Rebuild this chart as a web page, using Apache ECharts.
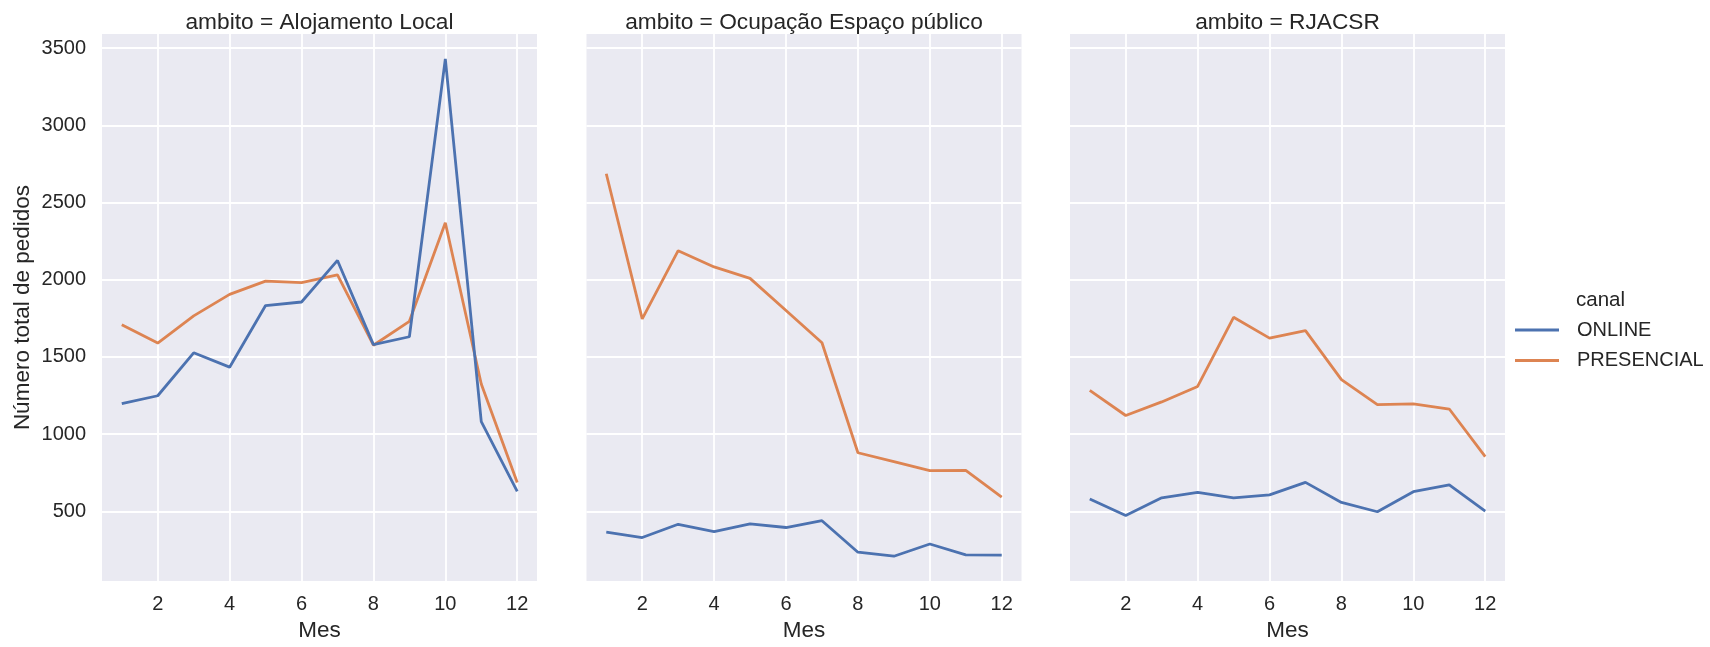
<!DOCTYPE html>
<html>
<head>
<meta charset="utf-8">
<script src="https://cdn.jsdelivr.net/npm/echarts@6/dist/echarts.min.js"></script>
<style>
html,body{margin:0;padding:0;background:#fff;}
#c{width:1710px;height:647px;}
</style>
</head>
<body>
<div id="c"></div>
<script>
const months = [1,2,3,4,5,6,7,8,9,10,11,12];
const panelNames = ['Alojamento Local', 'Ocupação Espaço público', 'RJACSR'];
const channels = ['ONLINE', 'PRESENCIAL'];
const alojOnline     = [1198,1249,1527,1434,1833,1856,2125,1580,1631,3430,1082,630];
const alojPresencial = [1708,1590,1766,1905,1991,1981,2032,1576,1731,2369,1325,688];
const ocupOnline     = [366,331,417,370,419,396,440,236,210,289,219,217];
const ocupPresencial = [2686,1747,2188,2083,2009,1801,1592,880,822,764,766,593];
const rjOnline       = [581,474,588,623,588,607,688,558,498,628,672,502];
const rjPresencial   = [1284,1121,1209,1309,1757,1622,1671,1353,1191,1196,1163,855];
const yTicks = [500,1000,1500,2000,2500,3000,3500];
const xTicks = [2,4,6,8,10,12];

const panelData = [[alojOnline, alojPresencial],[ocupOnline, ocupPresencial],[rjOnline, rjPresencial]];
const colors = ['#4C72B0', '#DD8452'];
const FONT = '"Liberation Sans", Arial, sans-serif';
const TXT = '#262626';

const gridLefts = [102, 586.5, 1070];
const gridW = 435, gridTop = 34, gridH = 555;

const grids = [], xAxes = [], yAxes = [], series = [], graphics = [];
gridLefts.forEach((l, i) => {
  grids.push({left: l, top: gridTop, width: gridW, height: gridH, show: true,
    backgroundColor: '#EAEAF2', borderWidth: 0, containLabel: false});
  xAxes.push({type: 'value', gridIndex: i, min: 0.45, max: 12.55,
    axisLine: {show: false}, axisTick: {show: false, customValues: xTicks},
    axisLabel: {customValues: xTicks, color: TXT, fontSize: 20, fontFamily: FONT, margin: 13,
      formatter: v => String(v)},
    splitLine: {show: true, lineStyle: {color: '#ffffff', width: 1.8}},
    name: 'Mes', nameLocation: 'middle', nameGap: 37,
    nameTextStyle: {color: TXT, fontSize: 22.5, fontFamily: FONT}});
  yAxes.push({type: 'value', gridIndex: i, min: 49, max: 3591,
    axisLine: {show: false}, axisTick: {show: false, customValues: yTicks},
    axisLabel: {show: i === 0, customValues: yTicks, color: TXT, fontSize: 20, fontFamily: FONT, margin: 16,
      formatter: v => String(v)},
    splitLine: {show: true, lineStyle: {color: '#ffffff', width: 1.8}},
    name: i === 0 ? 'Número total de pedidos' : '', nameLocation: 'middle', nameGap: 68,
    nameTextStyle: {color: TXT, fontSize: 22.5, fontFamily: FONT}});
  channels.forEach((ch, k) => {
    series.push({type: 'line', name: ch, xAxisIndex: i, yAxisIndex: i,
      data: months.map((m, j) => [m, panelData[i][k][j]]),
      symbol: 'none', showSymbol: false, color: colors[k],
      lineStyle: {color: colors[k], width: 2.8}, animation: false, z: 3 + (1 - k)});
  });
  graphics.push({type: 'text', x: l + gridW / 2, y: 22.5,
    style: {text: 'ambito = ' + panelNames[i], fill: TXT, font: '22.7px ' + FONT,
      textAlign: 'center', textVerticalAlign: 'middle'}});
});
graphics.push({type: 'text', x: 1576, y: 300,
  style: {text: 'canal', fill: TXT, font: '20.5px ' + FONT, textAlign: 'left', textVerticalAlign: 'middle'}});

const chart = echarts.init(document.getElementById('c'), null, {renderer: 'canvas'});
chart.setOption({
  animation: false,
  backgroundColor: '#ffffff',
  grid: grids, xAxis: xAxes, yAxis: yAxes, series: series,
  legend: {data: channels, orient: 'vertical', left: 1515, top: 320, padding: 0,
    itemWidth: 44, itemHeight: 2.8, itemGap: 10.5, icon: 'rect',
    textStyle: {color: TXT, fontSize: 20, fontFamily: FONT, padding: [0, 0, 0, 13]}},
  graphic: graphics
});
</script>
</body>
</html>
